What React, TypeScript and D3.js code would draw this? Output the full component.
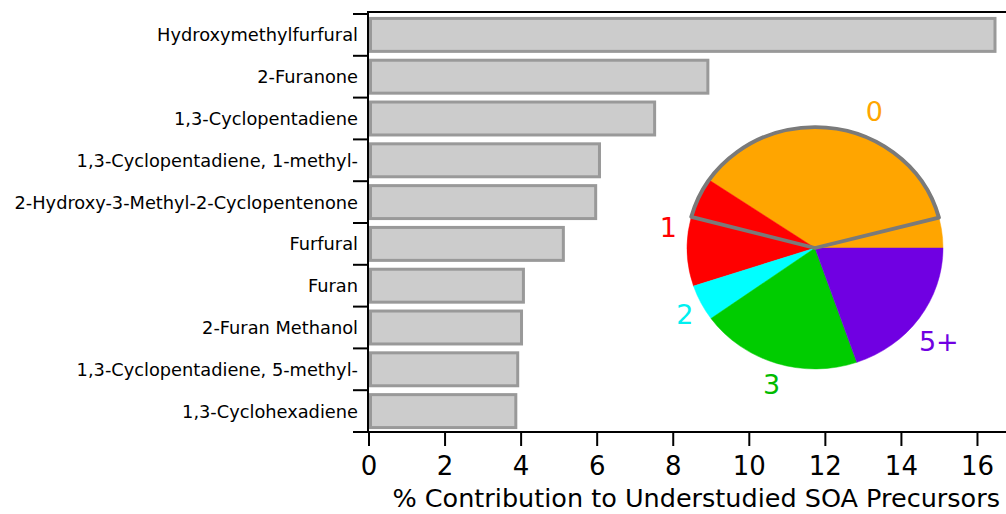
import React from 'react';
import * as d3 from 'd3';

const compounds = [
  'Hydroxymethylfurfural',
  '2-Furanone',
  '1,3-Cyclopentadiene',
  '1,3-Cyclopentadiene, 1-methyl-',
  '2-Hydroxy-3-Methyl-2-Cyclopentenone',
  'Furfural',
  'Furan',
  '2-Furan Methanol',
  '1,3-Cyclopentadiene, 5-methyl-',
  '1,3-Cyclohexadiene',
];
const contributions = [16.5, 8.95, 7.55, 6.1, 6.0, 5.15, 4.1, 4.05, 3.95, 3.9];
const xTicks = [0, 2, 4, 6, 8, 10, 12, 14, 16];

const pieLabels = ['0', '1', '2', '3', '5+'];
const pieValues = [40.5, 14.6, 4.8, 20.4, 19.7];
const pieColors = ['#ffa500', '#ff0000', '#00ffff', '#00cc00', '#7000e2'];
const labelColors = ['#ffa500', '#ff0000', '#00f0f0', '#00bb00', '#7000e2'];
// highlighted wedge drawn as an outline over the pie: [offset, wedge, rest]
const outlineParts = [4.05, 41.8, 54.15];

const W = 1006;
const H = 514;
const margin = { top: 12, right: 0, bottom: 82, left: 368 };
const font = '"DejaVu Sans", sans-serif';

const App = () => {
  const x = d3.scaleLinear().domain([0, 16.75]).range([margin.left + 1, W]);
  const y = d3
    .scaleBand()
    .domain(compounds)
    .range([margin.top + 2, H - margin.bottom])
    .paddingInner(0.14)
    .paddingOuter(0.07);
  const step = y.step();
  const y0 = margin.top + 2;
  const yBottom = H - margin.bottom;

  // pie
  const cx = 815;
  const cy = 248;
  const r = 128;
  const sy = 0.945;
  const pie = d3
    .pie<number>()
    .sort(null)
    .value((d) => d)
    .startAngle(Math.PI / 2)
    .endAngle(Math.PI / 2 - 2 * Math.PI);
  const slices = pie(pieValues);
  const outline = pie(outlineParts)[1];
  const arc = d3.arc<d3.PieArcDatum<number>>().innerRadius(0).outerRadius(r);

  // label placement tweaks (degrees, px)
  const labelShift = [6.4, 0, 0, 0, 1.5];
  const labelR = [149, 148, 146, 143, 155];

  return (
    <div style={{ position: 'absolute', left: 0, top: 0 }}>
      <svg width={W} height={H} style={{ display: 'block', background: '#fff' }}>
        {/* bars */}
        {compounds.map((c, i) => (
          <rect
            key={c}
            x={x(0) + 1.5}
            y={(y(c) as number) + 1.5}
            width={x(contributions[i]) - x(0) - 3}
            height={y.bandwidth() - 3}
            fill="#cccccc"
            stroke="#999999"
            strokeWidth={3}
          />
        ))}
        {/* category labels */}
        {compounds.map((c) => (
          <text
            key={c}
            x={358}
            y={(y(c) as number) + y.bandwidth() / 2}
            dy="0.36em"
            textAnchor="end"
            fontFamily={font}
            fontSize={17.8}
            fill="#000"
          >
            {c}
          </text>
        ))}
        {/* left axis ticks at band boundaries */}
        {d3.range(compounds.length + 1).map((i) => (
          <line
            key={i}
            x1={353}
            x2={margin.left}
            y1={y0 + i * step}
            y2={y0 + i * step}
            stroke="#000"
            strokeWidth={2}
          />
        ))}
        {/* frame */}
        <line x1={margin.left - 1} x2={W} y1={margin.top} y2={margin.top} stroke="#000" strokeWidth={2} />
        <line x1={margin.left} x2={margin.left} y1={margin.top} y2={yBottom + 1} stroke="#000" strokeWidth={2} />
        <line x1={margin.left - 1} x2={W} y1={yBottom} y2={yBottom} stroke="#000" strokeWidth={2} />
        {/* bottom axis */}
        {xTicks.map((t) => (
          <g key={t} transform={`translate(${x(t)},0)`}>
            <line y1={yBottom} y2={yBottom + 14} stroke="#000" strokeWidth={2} />
            <text
              y={475}
              textAnchor="middle"
              fontFamily={font}
              fontSize={26}
              fill="#000"
            >
              {t}
            </text>
          </g>
        ))}
        <text
          x={W - 6}
          y={507}
          textAnchor="end"
          fontFamily={font}
          fontSize={25.5}
          fill="#000"
        >
          % Contribution to Understudied SOA Precursors
        </text>
        {/* pie */}
        <g transform={`translate(${cx},${cy}) scale(1,${sy})`}>
          {slices.map((s, i) => (
            <path key={i} d={arc(s) as string} fill={pieColors[i]} stroke={pieColors[i]} strokeWidth={0.5} />
          ))}
          <path d={arc(outline) as string} fill="none" stroke="#7a7a7a" strokeWidth={4} strokeLinejoin="round" />
        </g>
        {slices.map((s, i) => {
          const a = (s.startAngle + s.endAngle) / 2 + (labelShift[i] * Math.PI) / 180;
          const lx = cx + labelR[i] * Math.sin(a);
          const ly = cy - labelR[i] * Math.cos(a);
          return (
            <text
              key={i}
              x={lx}
              y={ly}
              dy="0.36em"
              textAnchor="middle"
              fontFamily={font}
              fontSize={27}
              fill={labelColors[i]}
            >
              {pieLabels[i]}
            </text>
          );
        })}
      </svg>
    </div>
  );
};

export default App;
